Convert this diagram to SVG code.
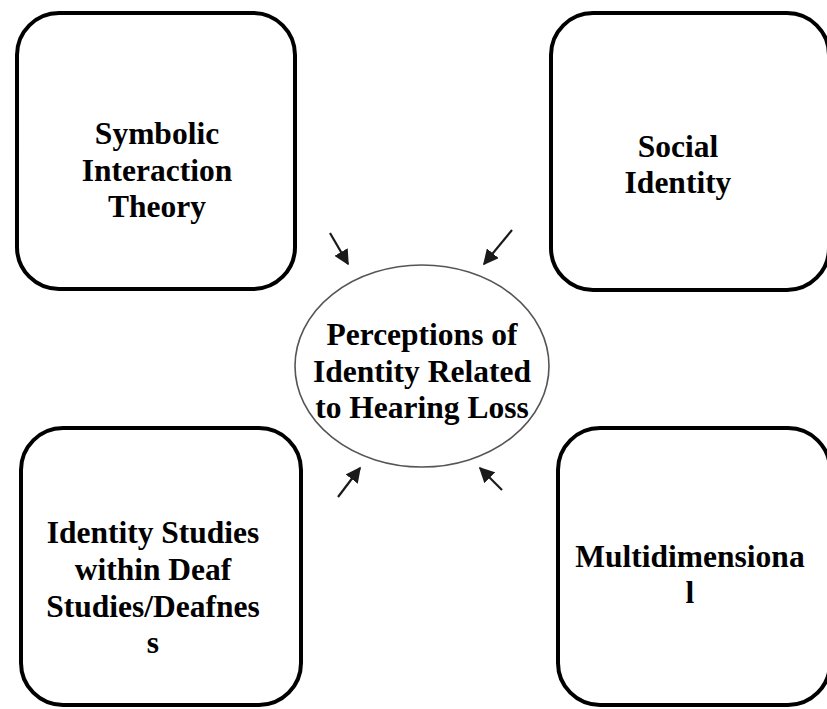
<svg xmlns="http://www.w3.org/2000/svg" width="827" height="709" viewBox="0 0 827 709">
  <defs>
    <marker id="ah" viewBox="0 0 10 10" refX="9" refY="5" markerWidth="7" markerHeight="7" markerUnits="strokeWidth" orient="auto">
      <path d="M0,0 L10,5 L0,10 Z" fill="#1a1a1a"/>
    </marker>
  </defs>
  <style>
    .box { fill: #fff; stroke: #000; stroke-width: 4; }
    .ell { fill: #fff; stroke: #555; stroke-width: 1.6; }
    .lbl { font-family: "Liberation Serif", "Times New Roman", serif; font-weight: bold; font-size: 31.5px; fill: #000; text-anchor: middle; }
    .arr { stroke: #1a1a1a; stroke-width: 2.2; fill: none; marker-end: url(#ah); }
  </style>
  <rect width="827" height="709" fill="#fff"/>

  <g id="node-symbolic">
    <rect class="box" x="17" y="13" width="278" height="276" rx="42" ry="42"/>
    <text class="lbl" x="157" y="144">Symbolic</text>
    <text class="lbl" x="157" y="181">Interaction</text>
    <text class="lbl" x="157" y="217">Theory</text>
  </g>

  <g id="node-social">
    <rect class="box" x="551" y="13" width="278" height="277" rx="42" ry="42"/>
    <text class="lbl" x="678" y="157">Social</text>
    <text class="lbl" x="678" y="193">Identity</text>
  </g>

  <g id="node-deaf">
    <rect class="box" x="21" y="428" width="280" height="277" rx="42" ry="42"/>
    <text class="lbl" x="153" y="543">Identity Studies</text>
    <text class="lbl" x="153" y="580">within Deaf</text>
    <text class="lbl" x="153" y="617">Studies/Deafnes</text>
    <text class="lbl" x="153" y="653">s</text>
  </g>

  <g id="node-multi">
    <rect class="box" x="558" y="428" width="272" height="277" rx="42" ry="42"/>
    <text class="lbl" x="690" y="567">Multidimensiona</text>
    <text class="lbl" x="690" y="603">l</text>
  </g>

  <g id="node-center">
    <ellipse class="ell" cx="422" cy="366" rx="127" ry="101"/>
    <text class="lbl" x="422" y="345">Perceptions of</text>
    <text class="lbl" x="422" y="382">Identity Related</text>
    <text class="lbl" x="422" y="418">to Hearing Loss</text>
  </g>

  <g id="connectors">
    <line class="arr" x1="330" y1="233" x2="348" y2="264"/>
    <line class="arr" x1="512" y1="230" x2="484" y2="264"/>
    <line class="arr" x1="338" y1="497" x2="360" y2="468"/>
    <line class="arr" x1="502" y1="490" x2="480" y2="468"/>
  </g>
</svg>
